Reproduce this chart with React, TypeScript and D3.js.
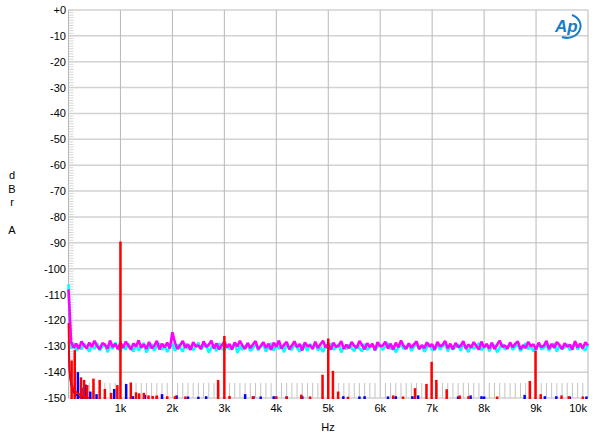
import React from "react";
import * as d3 from "d3";

const W = 600, H = 443;
const yTicks = [0, -10, -20, -30, -40, -50, -60, -70, -80, -90, -100, -110, -120, -130, -140, -150];
const xTicks = [1000, 2000, 3000, 4000, 5000, 6000, 7000, 8000, 9000, 10000];
const xTickLabels = ["1k", "2k", "3k", "4k", "5k", "6k", "7k", "8k", "9k", "10k"];

// noise floor traces, one value every 50 Hz from 50 Hz to 10 kHz
const noiseStep = 50;
const magentaStart = -108;
const magentaNoise = [
  -128.4,-130.6,-129.0,-131.0,-128.1,-129.7,-130.8,-128.6,-130.2,-127.9,
  -129.9,-131.2,-128.8,-129.4,-130.9,-127.8,-130.3,-129.1,-131.1,-128.5,
  -130.7,-128.2,-129.6,-131.3,-128.9,-130.1,-127.7,-130.5,-129.3,-131.0,
  -128.3,-130.8,-129.8,-127.9,-131.2,-129.0,-130.4,-128.6,-130.9,-124.6,
  -128.7,-131.1,-129.5,-128.0,-130.6,-129.2,-131.4,-128.4,-130.0,-129.7,
  -131.0,-128.1,-130.3,-129.4,-127.8,-130.9,-128.9,-131.2,-129.6,-128.2,
  -130.5,-129.1,-131.3,-128.5,-130.1,-127.9,-129.8,-131.0,-128.7,-130.7,
  -129.3,-128.0,-131.1,-129.9,-128.4,-130.6,-129.0,-131.4,-128.6,-130.2,
  -127.8,-130.9,-129.4,-128.3,-131.2,-129.7,-128.1,-130.4,-129.1,-131.6,
  -128.5,-130.0,-129.6,-131.1,-128.2,-130.7,-129.2,-127.9,-130.5,-129.0,
  -131.3,-128.6,-130.2,-129.8,-128.0,-131.0,-129.4,-130.8,-128.3,-129.9,
  -130.6,-127.9,-129.5,-131.2,-128.8,-130.3,-129.1,-131.5,-128.4,-130.0,
  -129.7,-128.2,-130.9,-129.0,-131.3,-128.6,-130.4,-127.8,-129.8,-131.0,
  -128.9,-130.5,-129.3,-128.1,-131.1,-129.6,-130.7,-128.5,-130.1,-129.2,
  -131.4,-128.3,-130.0,-129.5,-127.9,-130.8,-129.0,-131.2,-128.7,-130.3,
  -129.8,-128.0,-131.0,-129.3,-130.6,-128.4,-129.9,-131.3,-128.2,-130.5,
  -129.1,-130.9,-128.6,-131.1,-129.4,-127.8,-130.2,-129.7,-131.0,-128.5,
  -130.4,-129.0,-128.1,-131.2,-129.6,-130.7,-128.3,-130.0,-129.2,-131.4,
  -128.6,-130.3,-129.8,-127.9,-131.0,-129.1,-130.6,-128.4,-129.5,-131.1,
  -128.8,-130.2,-129.4,-131.3,-128.0,-130.5,-129.0,-130.8,-128.5,-129.7,
];
const cyanStart = -106;
const cyanNoise = [
  -130.9,-128.7,-131.8,-129.6,-131.2,-128.9,-130.4,-132.1,-129.3,-131.0,
  -128.8,-131.5,-130.2,-129.0,-132.3,-129.7,-131.1,-128.6,-130.8,-131.9,
  -129.4,-131.3,-128.9,-130.6,-132.0,-129.2,-131.6,-130.1,-128.7,-132.4,
  -130.5,-129.1,-131.7,-130.0,-128.8,-131.4,-129.6,-132.2,-130.3,-129.0,
  -131.8,-129.3,-130.7,-132.1,-128.9,-131.0,-129.8,-131.5,-130.2,-128.6,
  -131.2,-130.0,-129.1,-132.5,-130.6,-129.4,-131.9,-128.8,-130.9,-131.6,
  -129.5,-131.1,-130.3,-128.7,-132.6,-129.9,-131.3,-130.0,-129.2,-131.8,
  -130.7,-128.9,-131.5,-130.1,-129.3,-132.0,-130.5,-128.8,-131.7,-129.6,
  -131.0,-129.8,-132.3,-129.0,-130.8,-131.4,-128.9,-130.6,-132.1,-129.5,
  -130.2,-131.8,-129.1,-130.9,-128.7,-131.6,-130.4,-132.2,-129.7,-131.0,
  -128.8,-131.3,-130.5,-129.2,-132.4,-130.0,-131.1,-129.4,-130.7,-131.9,
  -129.6,-130.8,-132.0,-129.0,-131.4,-130.3,-128.9,-131.7,-130.1,-129.5,
  -131.5,-130.0,-128.8,-131.2,-129.7,-132.3,-130.6,-129.1,-131.0,-130.4,
  -129.3,-131.8,-130.2,-128.9,-131.1,-129.8,-132.1,-130.5,-129.0,-131.6,
  -130.9,-129.4,-131.3,-130.0,-128.7,-132.0,-129.9,-131.2,-130.3,-129.2,
  -131.7,-129.0,-130.6,-132.2,-129.5,-131.0,-130.1,-128.8,-131.5,-130.4,
  -129.2,-131.9,-130.0,-129.6,-132.3,-130.7,-129.1,-131.3,-130.2,-128.9,
  -131.4,-130.1,-129.3,-131.8,-130.5,-128.8,-131.1,-129.9,-132.0,-130.3,
  -129.0,-131.2,-130.6,-129.4,-131.7,-130.0,-128.9,-132.1,-129.8,-131.0,
  -130.4,-129.2,-131.5,-130.1,-128.8,-131.3,-129.7,-130.9,-131.6,-129.5,
];

// low-frequency skirts [Hz, dB]
const redSkirt: [number, number][] = [[0,-121],[10,-132],[20,-139],[40,-143.5],[70,-145.5],[110,-147],[200,-148.5],[300,-149.5],[400,-150]];
const blueSkirt: [number, number][] = [[0,-128],[20,-140],[50,-145],[100,-148],[200,-149.5],[300,-150]];

// spectral lines [Hz, dB]
const redLines: [number, number][] = [
  [60,-135.5],[120,-131.5],[240,-142],[300,-143],[360,-145],[480,-142.5],[600,-143],[700,-146.5],[820,-148],
  [940,-145],[1000,-89.5],[1200,-144],[1300,-147.8],[1360,-148.2],[1450,-148],[1540,-149],[1620,-149.2],
  [1700,-149],[1900,-149.3],[2050,-149.3],[2250,-149.4],[2880,-143],[3000,-126],[3100,-149.2],[3550,-149.3],
  [4000,-149.3],[4200,-149.4],[4480,-148.7],[4650,-149.4],[4890,-141],[5000,-127],[5090,-139.5],[5190,-147.5],
  [5380,-149.5],[6250,-149],[6440,-149.4],[6670,-146.2],[6890,-144.6],[6990,-136],[7080,-143],[7280,-146.6],
  [7530,-149],[7700,-149.3],[8250,-149.4],[8880,-143.4],[8990,-131.8],[9090,-148.5],[9490,-149],[9630,-149.3],[9900,-149.4],
];
const blueLines: [number, number][] = [
  [180,-140],[250,-146],[330,-144.8],[420,-147.5],[540,-148.5],[880,-146.5],[1110,-144.6],[1240,-149.3],
  [1470,-148.8],[1700,-149.3],[1800,-148.5],[2080,-149],[2300,-149.4],[2500,-149.5],[2650,-149.3],[3400,-148.5],
  [3560,-149.3],[3700,-149.4],[3950,-149.3],[4200,-149.4],[4500,-149.3],[5290,-149.3],[5600,-149.4],[5700,-149.3],
  [6150,-149.4],[6300,-149.3],[6620,-149.3],[6730,-149],[7500,-149.4],[7740,-149],[7950,-149.3],[8000,-149.4],
  [8780,-148.8],[9170,-149.3],[9390,-149.3],[9650,-149.4],[9970,-149.4],
];
// grey comb of reference markers every 100 Hz
const combFreqs = d3.range(100, 10000, 100).filter((f) => f % 1000 !== 0);
const combTop = -144.2;

export default function App() {
  const x = d3.scaleLinear().domain([0, 10000]).range([68.5, 588]);
  const y = d3.scaleLinear().domain([-150, 0]).range([398, 10]);
  const line = d3.line<[number, number]>().x((d) => x(d[0])).y((d) => y(d[1]));
  const toPts = (start: number, arr: number[]): [number, number][] =>
    [[0, start] as [number, number]].concat(arr.map((v, i) => [(i + 1) * noiseStep, v] as [number, number]));
  const minor = d3.range(-150, 1, 1);
  const font = "'Liberation Sans', Arial, sans-serif";
  return (
    <svg width={W} height={H} style={{ position: "absolute", left: 0, top: 0, background: "#fff" }} fontFamily={font}>
      <rect x={0} y={0} width={W} height={H} fill="#fff" />
      {minor.map((v) => (
        <line key={"m" + v} x1={x(0)} x2={x(0) + 5} y1={y(v)} y2={y(v)} stroke="#d6d6d6" strokeWidth={1} />
      ))}
      {yTicks.map((v) => (
        <line key={"h" + v} x1={x(0)} x2={x(10000)} y1={y(v)} y2={y(v)} stroke="#d2d2d2" strokeWidth={1.5} />
      ))}
      {[0, ...xTicks].map((v) => (
        <line key={"v" + v} x1={x(v)} x2={x(v)} y1={y(0)} y2={y(-150)} stroke="#b8b8b8" strokeWidth={1} />
      ))}
      {combFreqs.map((f) => (
        <line key={"c" + f} x1={x(f)} x2={x(f)} y1={y(combTop)} y2={y(-150)} stroke="#c4c4c4" strokeWidth={1} />
      ))}
      <path d={line(toPts(cyanStart, cyanNoise)) || ""} fill="none" stroke="#00ffff" strokeWidth={2.6} strokeLinejoin="bevel" />
      <path d={line(toPts(magentaStart, magentaNoise)) || ""} fill="none" stroke="#ff00ff" strokeWidth={2.6} strokeLinejoin="bevel" />
      <path d={line(blueSkirt) || ""} fill="none" stroke="#0000ff" strokeWidth={1.5} />
      {blueLines.map(([f, v]) => (
        <line key={"b" + f} x1={x(f)} x2={x(f)} y1={y(-150) + 1} y2={y(v)} stroke="#0000ff" strokeWidth={2.5} />
      ))}
      <path d={line(redSkirt) || ""} fill="none" stroke="#ff0000" strokeWidth={1.8} />
      {redLines.map(([f, v]) => (
        <line key={"r" + f} x1={x(f)} x2={x(f)} y1={y(-150) + 1} y2={y(v)} stroke="#ff0000" strokeWidth={2.5} />
      ))}
      {yTicks.map((v) => (
        <text key={"yl" + v} x={66} y={y(v) + 4} textAnchor="end" fontSize={11} fill="#000">
          {v === 0 ? "+0" : String(v)}
        </text>
      ))}
      {xTicks.map((v, i) => (
        <text key={"xl" + v} x={v === 10000 ? 587 : x(v)} y={412} textAnchor={v === 10000 ? "end" : "middle"} fontSize={11} fill="#000">
          {xTickLabels[i]}
        </text>
      ))}
      <text x={328} y={431} textAnchor="middle" fontSize={11}>Hz</text>
      <g fontSize={11} textAnchor="middle">
        <text x={12} y={179}>d</text>
        <text x={12} y={193}>B</text>
        <text x={12} y={206}>r</text>
        <text x={12} y={234}>A</text>
      </g>
      <g>
        <text x={555} y={32} fontSize={17} fontStyle="italic" fontWeight="bold" fill="#1a7cc4" fontFamily={font}>Ap</text>
        <path d="M 572 15 A 12 10.5 0 0 1 562 37" fill="none" stroke="#1a7cc4" strokeWidth={2} />
      </g>
    </svg>
  );
}
